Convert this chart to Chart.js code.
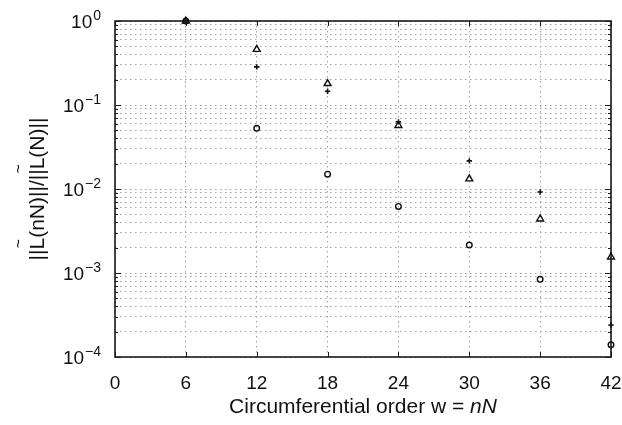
<!DOCTYPE html>
<html>
<head>
<meta charset="utf-8">
<script src="https://cdn.jsdelivr.net/npm/chart.js@4/dist/chart.umd.min.js"></script>
<style>
html, body { margin: 0; padding: 0; background: #fff; }
#wrap { width: 622px; height: 425px; }
</style>
</head>
<body>
<div id="wrap"><canvas id="grafico" width="622" height="425"></canvas></div>
<script>
// datos
const ordenes = [6, 12, 18, 24, 30, 36, 42];
const serieTriangulo = [1, 0.46, 0.18, 0.057, 0.0132, 0.0044, 0.00155];
const serieCruz = [1, 0.284, 0.146, 0.063, 0.0216, 0.0092, 0.00024];
const serieCirculo = [1, 0.0527, 0.015, 0.0062, 0.00215, 0.00084, 0.00014];
const ticksX = [0, 6, 12, 18, 24, 30, 36, 42];
const decadas = [-4, -3, -2, -1, 0];

const FUENTE = '"Liberation Sans", Arial, Helvetica, sans-serif';
const TINTA = '#111';

const puntos = (ys) => ordenes.map((x, i) => ({ x: x, y: ys[i] }));

// ticks del eje log: 1..9 x 10^k
function ticksLog() {
    const t = [];
    decadas.forEach(k => {
        if (k === 0) { t.push({ value: 1 }); return; }
        for (let m = 1; m <= 9; m++) t.push({ value: m * Math.pow(10, k) });
    });
    return t;
}

/** caja, marcas y rotulos estilo MATLAB **/
const ejesMatlab = {
    id: 'ejesMatlab',
    beforeDatasetsDraw(chart) {
        const { ctx, chartArea: a, scales: { x, y } } = chart;
        ctx.save();
        ctx.strokeStyle = '#1a1a1a';
        ctx.lineWidth = 1;
        // marcas hacia dentro
        ctx.beginPath();
        ticksX.forEach(v => {
            const px = Math.round(x.getPixelForValue(v)) + 0.5;
            ctx.moveTo(px, a.bottom); ctx.lineTo(px, a.bottom - 5);
            ctx.moveTo(px, a.top); ctx.lineTo(px, a.top + 5);
        });
        y.ticks.forEach(t => {
            const py = Math.round(y.getPixelForValue(t.value)) + 0.5;
            const mayor = Math.abs(Math.log10(t.value) - Math.round(Math.log10(t.value))) < 1e-9;
            const largo = mayor ? 6 : 3;
            ctx.moveTo(a.left, py); ctx.lineTo(a.left + largo, py);
            ctx.moveTo(a.right, py); ctx.lineTo(a.right - largo, py);
        });
        ctx.stroke();
        // caja
        ctx.lineWidth = 1.6;
        ctx.strokeRect(a.left, a.top, a.right - a.left, a.bottom - a.top);
        ctx.restore();
    },
    afterDraw(chart) {
        const { ctx, chartArea: a, scales: { x, y } } = chart;
        ctx.save();
        ctx.fillStyle = TINTA;

        // rotulos eje x
        ctx.font = '19px ' + FUENTE;
        ctx.textAlign = 'center';
        ctx.textBaseline = 'alphabetic';
        ticksX.forEach(v => ctx.fillText(String(v), x.getPixelForValue(v), 388.5));

        // rotulos eje y: 10 con exponente
        decadas.forEach(k => {
            const py = y.getPixelForValue(Math.pow(10, k));
            const exp = k === 0 ? '0' : '\u2212' + Math.abs(k);
            ctx.font = '14px ' + FUENTE;
            const wExp = ctx.measureText(exp).width;
            ctx.textAlign = 'right';
            ctx.fillText(exp, 101, py - 1);
            ctx.font = '19px ' + FUENTE;
            ctx.fillText('10', 101 - wExp - 1, py + 6.8);
        });

        // titulo eje x
        const cx = (a.left + a.right) / 2;
        const parte1 = 'Circumferential order w = ';
        const parte2 = 'nN';
        ctx.font = '21px ' + FUENTE;
        const w1 = ctx.measureText(parte1).width;
        ctx.font = 'italic 21px ' + FUENTE;
        const w2 = ctx.measureText(parte2).width;
        let x0 = cx - (w1 + w2) / 2;
        ctx.textAlign = 'left';
        ctx.font = '21px ' + FUENTE;
        ctx.fillText(parte1, x0, 412.5);
        ctx.font = 'italic 21px ' + FUENTE;
        ctx.fillText(parte2, x0 + w1, 412.5);

        // titulo eje y con tildes sobre las L
        const cy = (a.top + a.bottom) / 2;
        const texto = '||L(nN)||/||L(N)||';
        ctx.translate(44, cy);
        ctx.rotate(-Math.PI / 2);
        ctx.font = '21px ' + FUENTE;
        const wT = ctx.measureText(texto).width;
        const inicio = -wT / 2;
        ctx.textAlign = 'left';
        ctx.fillText(texto, inicio, 0);
        const wL = ctx.measureText('L').width;
        [2, 11].forEach(idx => {
            ctx.font = '21px ' + FUENTE;
            const off = ctx.measureText(texto.slice(0, idx)).width;
            ctx.font = '16px ' + FUENTE;
            ctx.textAlign = 'center';
            ctx.fillText('~', inicio + off + wL / 2, -20);
        });
        ctx.restore();
    }
};

const estiloSerie = (ys, forma, radio, grosor) => ({
    data: puntos(ys),
    pointStyle: forma,
    pointRadius: radio,
    pointHoverRadius: radio,
    pointBorderWidth: grosor,
    borderColor: TINTA,
    pointBorderColor: TINTA,
    backgroundColor: 'rgba(0,0,0,0)',
    pointBackgroundColor: 'rgba(0,0,0,0)',
    showLine: false,
    clip: false
});

new Chart(document.getElementById('grafico'), {
    type: 'scatter',
    data: {
        datasets: [
            estiloSerie(serieCirculo, 'circle', 2.8, 1.4),
            estiloSerie(serieTriangulo, 'triangle', 4, 1.4),
            estiloSerie(serieCruz, 'cross', 2.7, 1.6)
        ]
    },
    options: {
        responsive: false,
        animation: false,
        devicePixelRatio: 1,
        layout: { padding: { left: 115, right: 11, top: 21, bottom: 68 } },
        plugins: { legend: { display: false }, tooltip: { enabled: false } },
        scales: {
            x: {
                type: 'linear', min: 0, max: 42,
                ticks: { display: false, stepSize: 6 },
                afterBuildTicks: (s) => { s.ticks = ticksX.map(v => ({ value: v })); },
                afterFit: (s) => { s.height = 0; },
                grid: { color: '#a0a0a0', lineWidth: 1, drawTicks: false },
                border: { display: false, dash: [1.5, 3.5] }
            },
            y: {
                type: 'logarithmic', min: 1e-4, max: 1,
                ticks: { display: false },
                afterBuildTicks: (s) => { s.ticks = ticksLog(); },
                afterFit: (s) => { s.width = 0; },
                grid: { color: '#a0a0a0', lineWidth: 1, drawTicks: false },
                border: { display: false, dash: [1.5, 3.5] }
            }
        }
    },
    plugins: [ejesMatlab]
});
</script>
</body>
</html>
